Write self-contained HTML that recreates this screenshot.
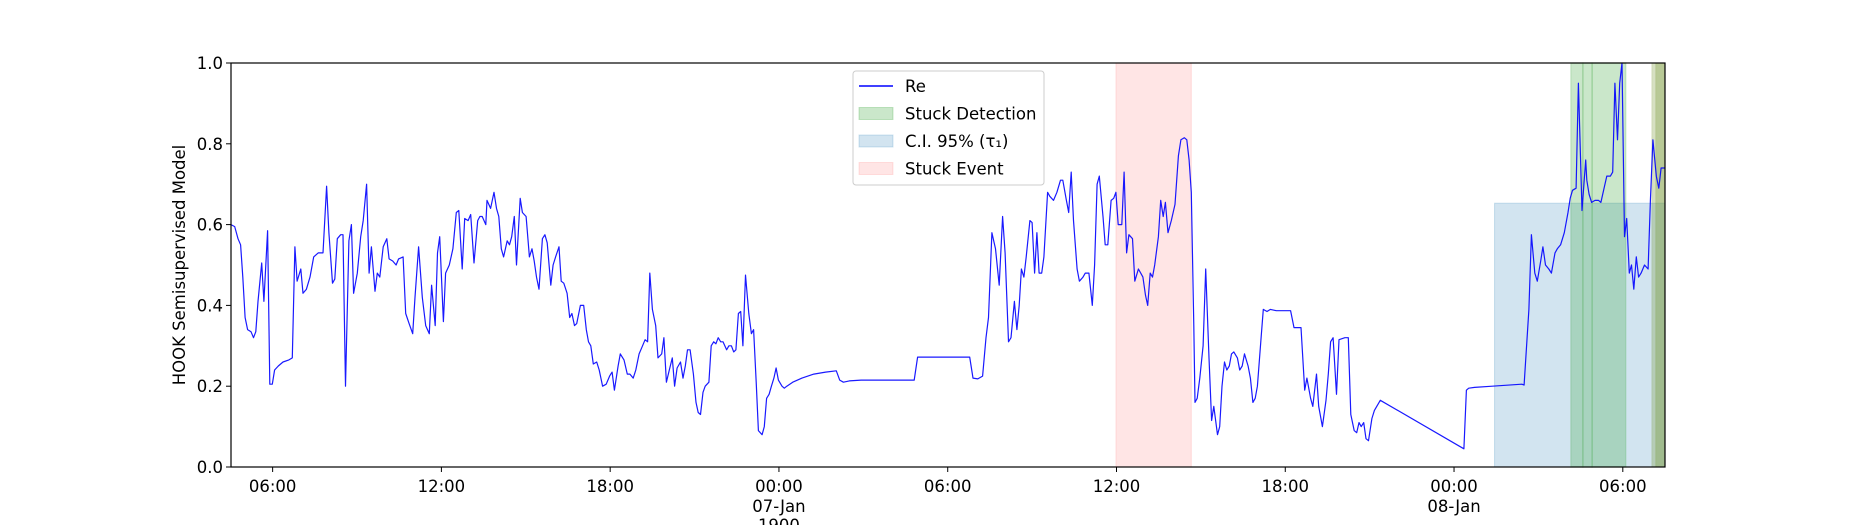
<!DOCTYPE html>
<html><head><meta charset="utf-8"><style>
html,body{margin:0;padding:0;background:#fff}
svg{display:block;font-family:"DejaVu Sans","Liberation Sans",sans-serif}
</style></head><body>
<svg id="chart" width="1850" height="525" viewBox="0 0 1850 525" xmlns="http://www.w3.org/2000/svg">
<g id="spans"></g>
<g id="series"></g>
<g id="axes"></g>
<g id="legend"></g>
</svg>
<script>
const times = [4.52,4.65,4.77,4.86,4.94,5.02,5.11,5.23,5.32,5.40,5.48,5.61,5.69,5.82,5.90,5.99,6.07,6.20,6.37,6.58,6.70,6.79,6.87,7.00,7.08,7.20,7.33,7.46,7.62,7.79,7.92,8.00,8.13,8.21,8.30,8.42,8.50,8.59,8.71,8.80,8.88,9.01,9.13,9.22,9.34,9.43,9.51,9.64,9.72,9.81,9.93,10.06,10.14,10.27,10.39,10.48,10.64,10.73,10.85,10.98,11.06,11.19,11.32,11.44,11.57,11.65,11.78,11.86,11.94,12.07,12.15,12.28,12.41,12.53,12.62,12.74,12.83,12.95,13.04,13.16,13.29,13.37,13.45,13.58,13.62,13.75,13.87,13.96,14.04,14.13,14.21,14.34,14.42,14.50,14.59,14.67,14.80,14.88,15.01,15.13,15.22,15.30,15.38,15.47,15.59,15.68,15.76,15.89,15.97,16.06,16.18,16.26,16.35,16.47,16.56,16.64,16.73,16.81,16.94,17.06,17.15,17.23,17.31,17.40,17.52,17.61,17.73,17.86,17.98,18.07,18.15,18.28,18.36,18.49,18.61,18.70,18.82,18.91,19.03,19.12,19.24,19.33,19.41,19.50,19.62,19.70,19.83,19.91,20.00,20.12,20.21,20.29,20.38,20.50,20.59,20.67,20.75,20.84,20.96,21.05,21.13,21.21,21.30,21.38,21.51,21.59,21.68,21.76,21.84,21.93,22.01,22.14,22.22,22.31,22.39,22.47,22.56,22.64,22.72,22.81,22.93,23.02,23.10,23.19,23.27,23.40,23.48,23.56,23.65,23.73,23.82,23.90,23.98,24.11,24.19,24.28,24.49,24.82,25.24,25.66,26.04,26.16,26.29,26.50,26.92,28.81,28.93,30.78,30.90,31.07,31.24,31.36,31.45,31.57,31.70,31.83,31.95,32.04,32.16,32.25,32.37,32.46,32.54,32.62,32.71,32.79,32.92,33.00,33.09,33.17,33.25,33.34,33.42,33.55,33.63,33.76,33.88,34.01,34.09,34.22,34.30,34.39,34.47,34.60,34.68,34.81,34.89,35.02,35.14,35.22,35.31,35.39,35.52,35.60,35.69,35.81,35.90,35.98,36.06,36.19,36.27,36.36,36.44,36.57,36.65,36.78,36.86,36.94,37.03,37.11,37.20,37.28,37.36,37.49,37.57,37.66,37.74,37.83,37.95,38.08,38.20,38.29,38.41,38.50,38.58,38.66,38.75,38.79,38.87,38.96,39.08,39.17,39.29,39.38,39.46,39.59,39.67,39.75,39.84,39.92,40.01,40.09,40.17,40.30,40.38,40.47,40.55,40.68,40.76,40.85,40.93,41.01,41.14,41.22,41.35,41.47,41.68,42.19,42.31,42.56,42.69,42.77,42.90,42.98,43.11,43.19,43.32,43.45,43.53,43.61,43.70,43.82,43.91,44.12,44.24,44.33,44.45,44.54,44.62,44.70,44.79,44.87,44.96,45.08,45.17,45.38,48.35,48.44,48.52,48.73,49.36,50.41,50.49,50.66,50.75,50.87,50.96,51.08,51.16,51.25,51.37,51.46,51.59,51.67,51.79,51.92,52.05,52.13,52.21,52.34,52.42,52.55,52.68,52.72,52.80,52.89,53.01,53.14,53.22,53.35,53.43,53.56,53.64,53.72,53.81,53.89,53.97,54.06,54.14,54.23,54.31,54.39,54.48,54.56,54.65,54.77,54.90,54.98,55.07,55.19,55.28,55.36,55.49];
const values = [0.60,0.595,0.565,0.55,0.47,0.37,0.34,0.335,0.32,0.335,0.41,0.505,0.41,0.585,0.205,0.205,0.24,0.25,0.26,0.265,0.27,0.545,0.46,0.49,0.43,0.44,0.47,0.52,0.53,0.53,0.695,0.58,0.455,0.465,0.565,0.575,0.575,0.20,0.56,0.60,0.43,0.48,0.57,0.61,0.70,0.48,0.545,0.435,0.48,0.47,0.545,0.565,0.515,0.51,0.50,0.515,0.52,0.38,0.355,0.33,0.42,0.545,0.42,0.35,0.33,0.45,0.35,0.53,0.57,0.36,0.48,0.50,0.54,0.63,0.635,0.49,0.615,0.61,0.625,0.505,0.61,0.62,0.62,0.60,0.66,0.64,0.68,0.64,0.62,0.54,0.52,0.56,0.55,0.57,0.62,0.50,0.665,0.63,0.62,0.52,0.54,0.51,0.47,0.44,0.565,0.575,0.555,0.45,0.50,0.52,0.545,0.46,0.455,0.43,0.37,0.38,0.35,0.355,0.40,0.40,0.34,0.31,0.30,0.255,0.26,0.24,0.20,0.205,0.225,0.235,0.19,0.25,0.28,0.265,0.23,0.23,0.22,0.24,0.28,0.295,0.315,0.31,0.48,0.39,0.35,0.27,0.28,0.32,0.21,0.245,0.27,0.20,0.245,0.26,0.22,0.25,0.29,0.29,0.23,0.16,0.135,0.13,0.185,0.20,0.21,0.30,0.31,0.305,0.32,0.31,0.31,0.29,0.30,0.30,0.285,0.29,0.38,0.385,0.30,0.475,0.38,0.33,0.34,0.21,0.09,0.08,0.10,0.17,0.18,0.20,0.22,0.245,0.215,0.20,0.195,0.20,0.21,0.22,0.23,0.235,0.238,0.215,0.21,0.213,0.215,0.215,0.272,0.272,0.22,0.218,0.225,0.32,0.37,0.58,0.54,0.45,0.62,0.53,0.31,0.32,0.41,0.34,0.40,0.49,0.47,0.52,0.61,0.605,0.48,0.58,0.48,0.48,0.52,0.68,0.67,0.66,0.68,0.71,0.71,0.66,0.63,0.73,0.61,0.49,0.46,0.47,0.48,0.48,0.40,0.50,0.70,0.72,0.62,0.55,0.55,0.66,0.665,0.68,0.60,0.60,0.73,0.53,0.575,0.565,0.46,0.49,0.48,0.47,0.425,0.40,0.48,0.47,0.50,0.57,0.66,0.62,0.655,0.58,0.61,0.65,0.77,0.81,0.815,0.81,0.76,0.68,0.35,0.16,0.17,0.22,0.30,0.49,0.27,0.115,0.15,0.08,0.10,0.20,0.26,0.24,0.25,0.28,0.285,0.27,0.24,0.25,0.28,0.25,0.22,0.16,0.17,0.20,0.32,0.39,0.385,0.39,0.387,0.387,0.345,0.345,0.19,0.22,0.17,0.15,0.23,0.15,0.10,0.165,0.23,0.31,0.32,0.18,0.315,0.32,0.32,0.13,0.09,0.085,0.11,0.10,0.11,0.07,0.065,0.12,0.14,0.165,0.045,0.19,0.195,0.197,0.20,0.205,0.203,0.39,0.575,0.48,0.46,0.51,0.545,0.50,0.49,0.48,0.53,0.54,0.55,0.58,0.63,0.665,0.685,0.69,0.95,0.635,0.76,0.71,0.675,0.655,0.66,0.66,0.655,0.695,0.72,0.72,0.73,0.95,0.81,0.95,1.0,0.57,0.615,0.48,0.50,0.44,0.52,0.47,0.48,0.50,0.49,0.66,0.81,0.72,0.69,0.74,0.74];
const stuckEvent = [[35.98,38.66]];
const ciSpan = [[49.44,55.5,0.653]];
const stuckDetection = [[52.15,52.58],[52.58,52.91],[52.91,54.11]];
const lateDetection = [[55.03,55.5],[55.17,55.5]];
const xTickHours = [6,12,18,24,30,36,42,48,54];
const xTickLabels = ["06:00","12:00","18:00","00:00","06:00","12:00","18:00","00:00","06:00"];
const xTickSub = {24:"07-Jan",48:"08-Jan"};
const yTicks = [0,0.2,0.4,0.6,0.8,1.0];

const L=231,R=1665,T=63,B=467,XMIN=4.52,XMAX=55.5;
const sx=t=>L+(t-XMIN)/(XMAX-XMIN)*(R-L);
const sy=v=>B-v*(B-T);
const NS="http://www.w3.org/2000/svg";
function mk(tag,attrs,parent,text){const e=document.createElementNS(NS,tag);for(const k in attrs)e.setAttribute(k,attrs[k]);if(text!==undefined)e.textContent=text;parent.appendChild(e);return e;}
const gS=document.getElementById('spans'),gL=document.getElementById('series'),gA=document.getElementById('axes'),gG=document.getElementById('legend');

stuckEvent.forEach(s=>{const r=mk('rect',{x:sx(s[0]),y:T,width:sx(s[1])-sx(s[0]),height:B-T,fill:'#ff0000','fill-opacity':0.1,stroke:'#ff0000','stroke-opacity':0.1},gS);

});
ciSpan.forEach(s=>{const r=mk('rect',{x:sx(s[0]),y:sy(s[2]),width:sx(s[1])-sx(s[0]),height:B-sy(s[2]),fill:'#1f77b4','fill-opacity':0.2,stroke:'#1f77b4','stroke-opacity':0.2},gS);

});
stuckDetection.forEach(s=>{const r=mk('rect',{x:sx(s[0]),y:T,width:sx(s[1])-sx(s[0]),height:B-T,fill:'#2ca02c','fill-opacity':0.25,stroke:'#2ca02c','stroke-opacity':0.15,'stroke-width':1.5},gS);

});
lateDetection.forEach(s=>{const r=mk('rect',{x:sx(s[0]),y:T,width:sx(s[1])-sx(s[0]),height:B-T,fill:'#6b8e23','fill-opacity':0.28,stroke:'#6b8e23','stroke-opacity':0.15},gS);

});

const pts=times.map((t,i)=>sx(t).toFixed(1)+','+sy(values[i]).toFixed(1)).join(' ');
const pl=mk('polyline',{points:pts,fill:'none',stroke:'#0000ff','stroke-width':1.2,'stroke-opacity':0.9,'stroke-linejoin':'round'},gL);



const frame=mk('rect',{x:L,y:T,width:R-L,height:B-T,fill:'none',stroke:'#000','stroke-width':1.2},gA);


yTicks.forEach(v=>{const y=sy(v);mk('line',{x1:L-5,x2:L,y1:y,y2:y,stroke:'#000','stroke-width':1},gA);
const t=mk('text',{x:L-8,y:y+6,'text-anchor':'end','font-size':16.5},gA,v.toFixed(1));

});
xTickHours.forEach((h,i)=>{const x=sx(h);mk('line',{x1:x,x2:x,y1:B,y2:B+5,stroke:'#000','stroke-width':1},gA);
const t=mk('text',{x:x,y:B+25,'text-anchor':'middle','font-size':16.5},gA,xTickLabels[i]);


if(xTickSub[h]){const s=mk('text',{x:x,y:B+45,'text-anchor':'middle','font-size':16.5},gA,xTickSub[h]);

}
if(h===24){const s=mk('text',{x:x,y:B+64,'text-anchor':'middle','font-size':16.5},gA,'1900');

}});
const yl=mk('text',{x:0,y:0,'text-anchor':'middle','font-size':16.5,transform:'translate(185,'+((T+B)/2)+') rotate(-90)'},gA,'HOOK Semisupervised Model');



const box=mk('rect',{x:853,y:71,width:191,height:114,rx:3,fill:'#fff','fill-opacity':0.8,stroke:'#ccc'},gG);


const leg=[['line','Re','#0000ff'],['rect','Stuck Detection','#2ca02c',0.25],['rect','C.I. 95% (τ₁)','#1f77b4',0.2],['rect','Stuck Event','#ff0000',0.1]];
leg.forEach((e,i)=>{const y=86+i*27.5;const g=mk('g',{},gG);


if(e[0]==='line')mk('line',{x1:859,x2:893,y1:y,y2:y,stroke:e[2],'stroke-width':1.5},g);
else mk('rect',{x:859,y:y-6,width:34,height:12,fill:e[2],'fill-opacity':e[3],stroke:e[2],'stroke-opacity':e[3]},g);
mk('text',{x:905,y:y+6,'font-size':16.5},g,e[1]);});
</script>
</body></html>
